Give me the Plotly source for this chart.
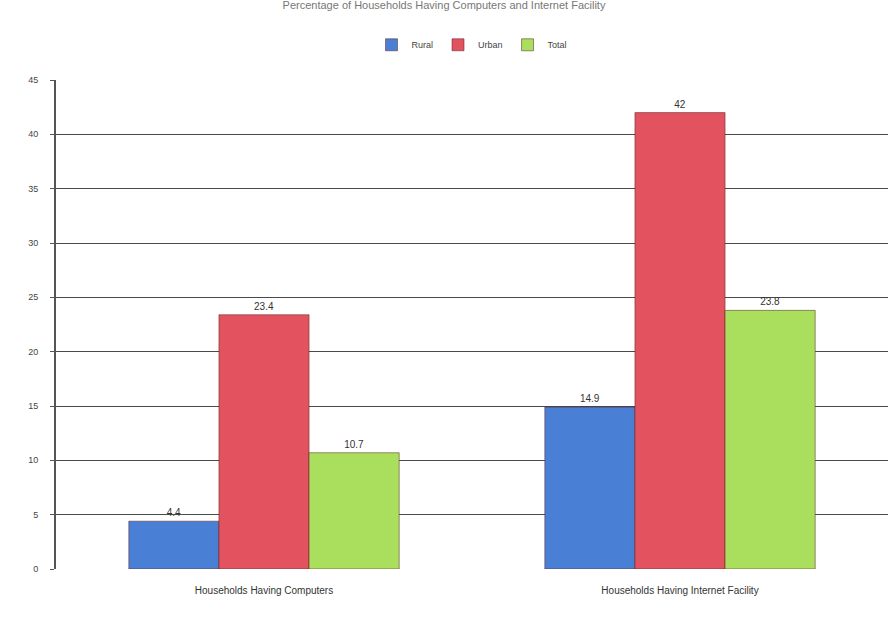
import plotly.graph_objects as go

categories = ["Households Having Computers", "Households Having Internet Facility"]
series_names = ["Rural", "Urban", "Total"]
rural = [4.4, 14.9]
urban = [23.4, 42.0]
total = [10.7, 23.8]
colors = ["#4a7fd6", "#e3525f", "#a9df5c"]
y_ticks = [0, 5, 10, 15, 20, 25, 30, 35, 40, 45]

fig = go.Figure()
for name, vals, col in zip(series_names, [rural, urban, total], colors):
    fig.add_trace(go.Bar(
        name=name, x=categories, y=vals,
        marker=dict(color=col, line=dict(color="rgba(90,30,30,0.5)", width=1)),
        text=[f"{v:g}" for v in vals], textposition="outside",
        textfont=dict(size=10, color="#333333", family="Arial"),
        cliponaxis=False,
    ))

fig.update_layout(
    width=888, height=621,
    margin=dict(l=56, r=0, t=80, b=52),
    paper_bgcolor="white", plot_bgcolor="white",
    barmode="group", bargap=0.35, bargroupgap=0.0,
    title=dict(text="Percentage of Households Having Computers and Internet Facility",
               x=0.5, y=0.998, xanchor="center", yanchor="top",
               font=dict(size=11, color="#777777", family="Arial")),
    legend=dict(orientation="h", x=0.5, xanchor="center", y=1.072, yanchor="middle",
                font=dict(size=9, color="#444444", family="Arial"),
                itemwidth=30, traceorder="normal"),
    font=dict(family="Arial"),
)
fig.update_yaxes(range=[0, 45], tickvals=y_ticks, showgrid=True,
                 gridcolor="#4a4a4a", gridwidth=1.4, showline=True,
                 linecolor="#555555", linewidth=2,
                 tickfont=dict(size=9, color="#444444"), ticks="outside",
                 ticklen=4, tickcolor="#555555", zeroline=False,
                 ticklabelstandoff=10)
fig.update_xaxes(showline=False, tickfont=dict(size=10, color="#333333"),
                 ticklabelstandoff=14)

fig.write_html("out.html")
